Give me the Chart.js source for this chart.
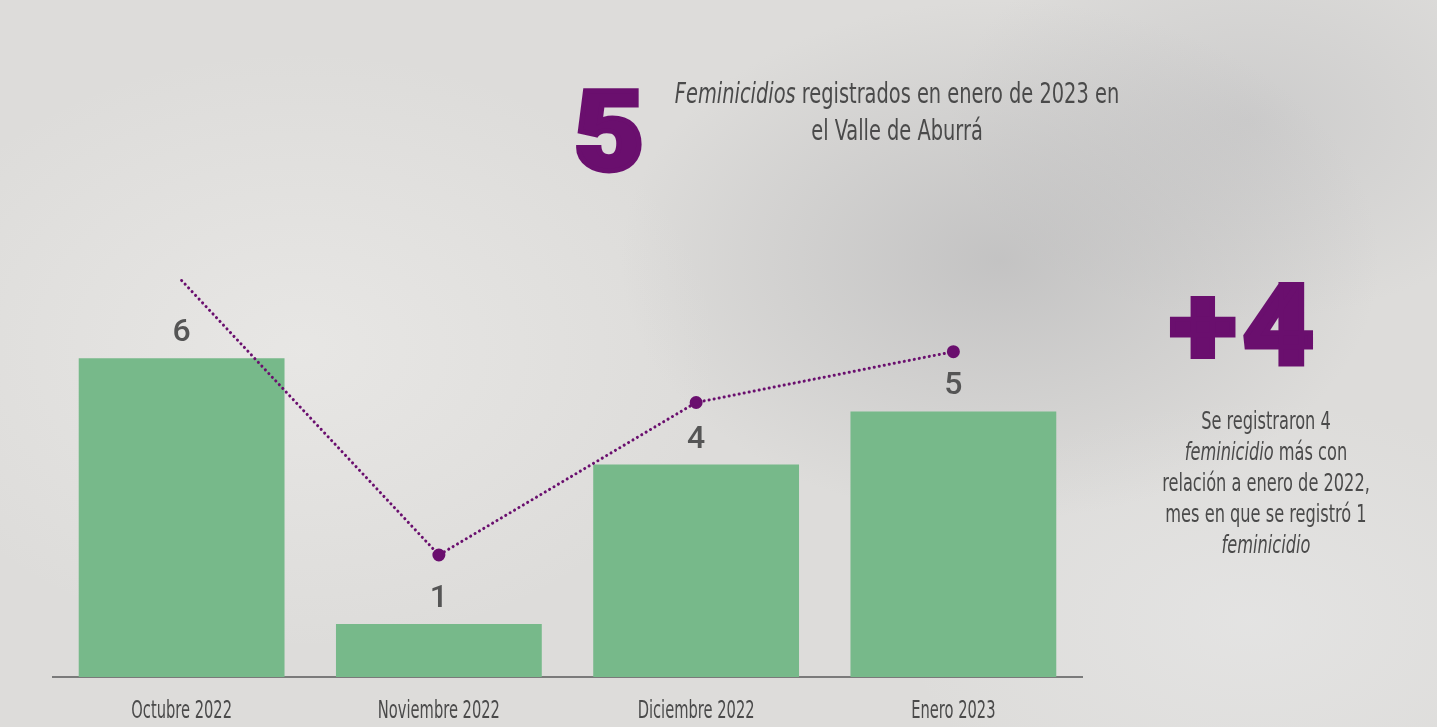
<!DOCTYPE html>
<html>
<head>
<meta charset="utf-8">
<script src="https://cdn.jsdelivr.net/npm/chart.js@4"></script>
<style>
  html, body { margin: 0; padding: 0; }
  body {
    width: 1437px; height: 727px; overflow: hidden; position: relative;
    background-color: #dddcda;
    background-image:
      radial-gradient(ellipse 380px 260px at 1000px 260px, rgba(170,170,172,0.5), rgba(170,170,172,0) 100%),
      radial-gradient(ellipse 300px 200px at 1250px 120px, rgba(185,185,187,0.45), rgba(185,185,187,0) 100%),
      radial-gradient(ellipse 420px 300px at 300px 350px, rgba(236,235,233,0.7), rgba(236,235,233,0) 100%),
      radial-gradient(ellipse 350px 220px at 1250px 620px, rgba(232,232,232,0.6), rgba(232,232,232,0) 100%);
  }
  #wrap { position: absolute; left: 0; top: 0; width: 1437px; height: 727px; }
  .cond { font-family: "Liberation Sans Narrow", "DejaVu Sans Condensed", sans-serif; color: #4a4a4a; white-space: nowrap; }
  .big { position: absolute; font-family: Roboto, "DejaVu Sans", sans-serif; font-weight: 900; color: #6a0f6e;
         line-height: 1; -webkit-text-stroke: 5px #6a0f6e; transform-origin: 0 0; }
  #cinco { left: 574px; top: 76px; font-size: 112px; transform: scaleX(1.08); }
  #mas4 { left: 1170px; top: 270px; font-size: 112px; transform: scaleX(1.1); letter-spacing: 6px; }
  #titulo { position: absolute; left: 597px; top: 75px; width: 600px; text-align: center; font-size: 28px; line-height: 37px;
            transform: scaleX(0.77); transform-origin: 50% 0; }
  #nota { position: absolute; left: 1106px; top: 406px; width: 320px; text-align: center; font-size: 24px; line-height: 31px;
          transform: scaleX(0.75); transform-origin: 50% 0; }
  i { font-style: italic; }
</style>
</head>
<body>
<div id="wrap"><canvas id="grafico"></canvas></div>
<div class="big" id="cinco">5</div>
<div class="cond" id="titulo"><i>Feminicidios</i> registrados en enero de 2023 en<br>el Valle de Aburrá</div>
<div class="big" id="mas4">+4</div>
<div class="cond" id="nota">Se registraron 4<br><i>feminicidio</i> más con<br>relación a enero de 2022,<br>mes en que se registró 1<br><i>feminicidio</i></div>
<script>
// Meses y casos
const meses = ['Octubre 2022', 'Noviembre 2022', 'Diciembre 2022', 'Enero 2023'];
const casos = [6, 1, 4, 5];
// Linea punteada de tendencia (primer punto sin marcador)
const tendencia = [6.4, 1, 4, 5];

const verde = '#77b98a';
const morado = '#6a0f6e';

// Etiquetas de valor encima de cada barra + etiquetas del eje x condensadas
const etiquetas = {
  id: 'etiquetas',
  afterDatasetsDraw(chart) {
    const ctx = chart.ctx;
    const meta = chart.getDatasetMeta(1);
    ctx.save();
    ctx.fillStyle = '#555';
    ctx.font = '500 32px Roboto, sans-serif';
    ctx.textAlign = 'center';
    ctx.textBaseline = 'alphabetic';
    meta.data.forEach((bar, i) => {
      ctx.fillText(casos[i], bar.x, bar.y - 17);
    });
    ctx.restore();

    const x = chart.scales.x;
    ctx.save();
    ctx.fillStyle = '#4a4a4a';
    ctx.font = '24px "Liberation Sans Narrow", "DejaVu Sans Condensed", sans-serif';
    ctx.textAlign = 'center';
    ctx.textBaseline = 'alphabetic';
    meses.forEach((m, i) => {
      const px = x.getPixelForTick(i);
      ctx.save();
      ctx.translate(px, chart.chartArea.bottom + 41);
      ctx.scale(0.68, 1);
      ctx.fillText(m, 0, 0);
      ctx.restore();
    });
    ctx.restore();
  }
};

new Chart(document.getElementById('grafico'), {
  data: {
    labels: meses,
    datasets: [
      {
        type: 'line',
        label: 'Tendencia',
        data: tendencia,
        yAxisID: 'y2',
        borderColor: morado,
        backgroundColor: morado,
        borderWidth: 3,
        borderDash: [0.1, 5],
        borderCapStyle: 'round',
        pointRadius: [0, 5, 5, 5],
        pointHoverRadius: 5,
        tension: 0,
        fill: false,
        order: 0
      },
      {
        type: 'bar',
        label: 'Feminicidios',
        data: casos,
        backgroundColor: verde,
        barPercentage: 0.8,
        categoryPercentage: 1,
        order: 1
      }
    ]
  },
  options: {
    responsive: true,
    maintainAspectRatio: false,
    animation: false,
    layout: { padding: { left: 53, right: 355, top: 252, bottom: 42 } },
    plugins: { legend: { display: false }, tooltip: { enabled: false } },
    scales: {
      x: {
        grid: { display: false },
        border: { display: true, color: '#7a7a7a', width: 2 },
        ticks: { display: false }
      },
      y: { display: false, min: 0, max: 8 },
      y2: { display: false, min: -1.4, max: 6.96 }
    }
  },
  plugins: [etiquetas]
});
</script>
</body>
</html>
